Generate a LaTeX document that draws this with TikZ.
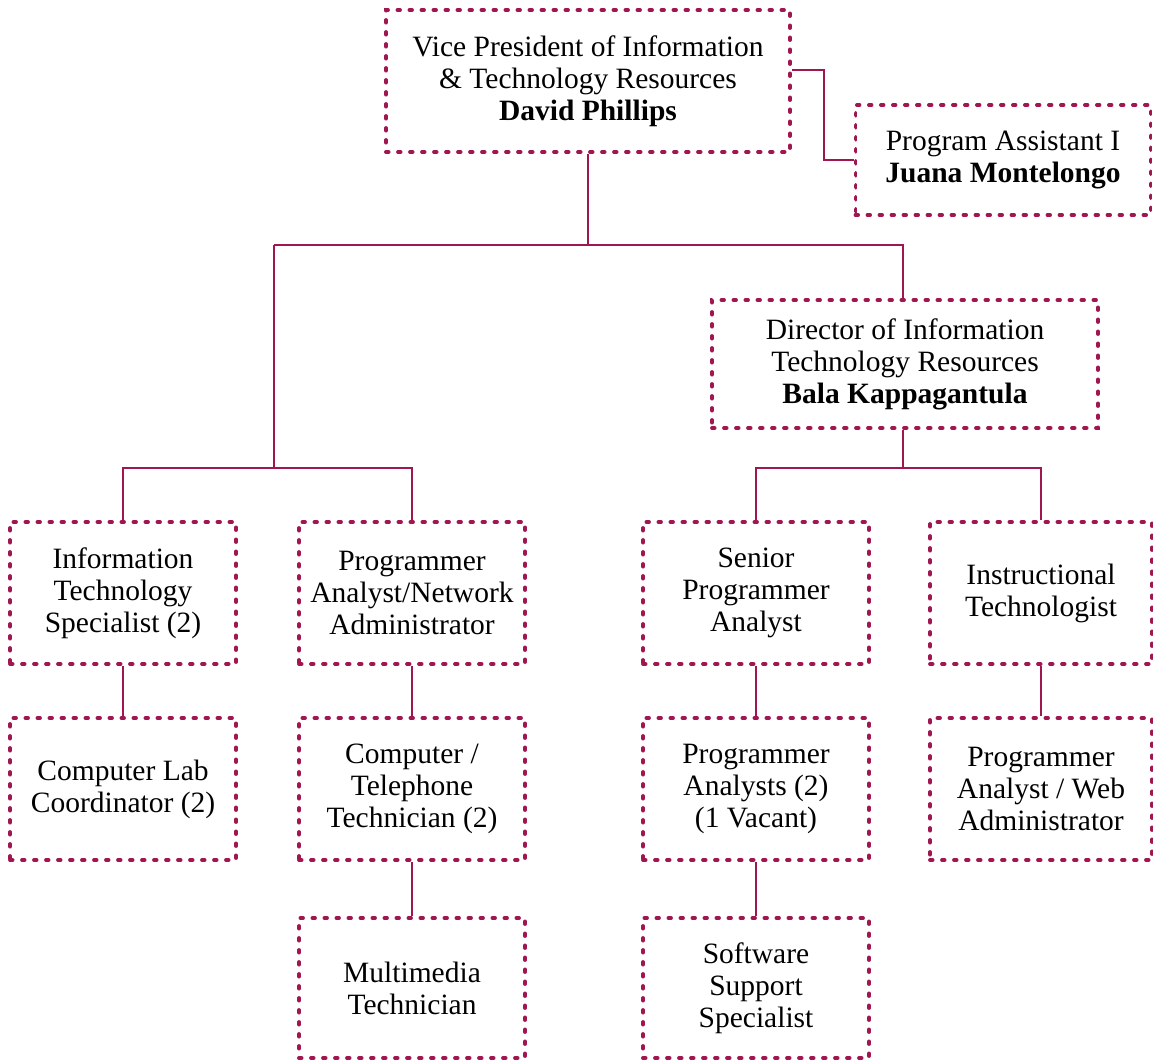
\documentclass[tikz,border=0pt]{standalone}
\usepackage{fontspec}
\setmainfont{Liberation Serif}
\definecolor{crim}{RGB}{160,22,80}
\begin{document}
\begin{tikzpicture}[x=1pt,y=-1pt,
  box/.style={draw=crim, line width=3.8pt, dash pattern=on 2.6pt off 9.4pt, line cap=round,
    minimum width=226pt, minimum height=142pt, align=center, inner sep=0pt,
    font=\fontsize{29.5}{32}\selectfont},
  conn/.style={draw=crim, line width=2.2pt}]
\useasboundingbox (0,0) rectangle (1153,1061);
\node[box, minimum width=404pt, minimum height=142pt] (vp) at (588,81) {Vice President of Information\\\& Technology Resources\\\textbf{David Phillips}};
\node[box, minimum width=295pt, minimum height=110pt] (pa) at (1003,160) {Program Assistant I\\\textbf{Juana Montelongo}};
\node[box, minimum width=386pt, minimum height=128pt] (dir) at (905,364) {Director of Information\\Technology Resources\\\textbf{Bala Kappagantula}};
\node[box] (its) at (123,593) {Information\\Technology\\Specialist (2)};
\node[box] (pana) at (412,593) {Programmer\\Analyst/Network\\Administrator};
\node[box] (spa) at (756,593) {Senior\\Programmer\\Analyst};
\node[box, minimum width=222pt] (itech) at (1041,593) {Instructional\\Technologist};
\node[box] (clc) at (123,789) {Computer Lab\\Coordinator (2)};
\node[box] (ctt) at (412,789) {Computer /\\Telephone\\Technician (2)};
\node[box] (pas) at (756,789) {Programmer\\Analysts (2)\\(1 Vacant)};
\node[box, minimum width=222pt] (pawa) at (1041,789) {Programmer\\Analyst / Web\\Administrator};
\node[box, minimum height=140pt] (mt) at (412,988) {Multimedia\\Technician};
\node[box, minimum height=140pt] (sss) at (756,988) {Software\\Support\\Specialist};
\coordinate (b1) at (588,245);
\coordinate (b2) at (274,468);
\coordinate (b3) at (903,468);
\draw[conn] (vp.south) -- (vp.south |- b1);
\draw[conn] (b2 |- b1) -- (b1 -| b3) -- (b3 |- dir.north);
\draw[conn] (b2 |- b1) -- (b2);
\draw[conn] (its.north) |- (b2) -| (pana.north);
\draw[conn] (b3 |- dir.south) -- (b3);
\draw[conn] (spa.north) |- (b3) -| (itech.north);
\draw[conn] (its.south) -- (clc.north);
\draw[conn] (pana.south) -- (ctt.north);
\draw[conn] (ctt.south) -- (mt.north);
\draw[conn] (spa.south) -- (pas.north);
\draw[conn] (pas.south) -- (sss.north);
\draw[conn] (itech.south) -- (pawa.north);
\draw[conn] ([yshift=11pt]vp.east) -- ++(32,0) |- (pa.west);
\end{tikzpicture}
\end{document}
